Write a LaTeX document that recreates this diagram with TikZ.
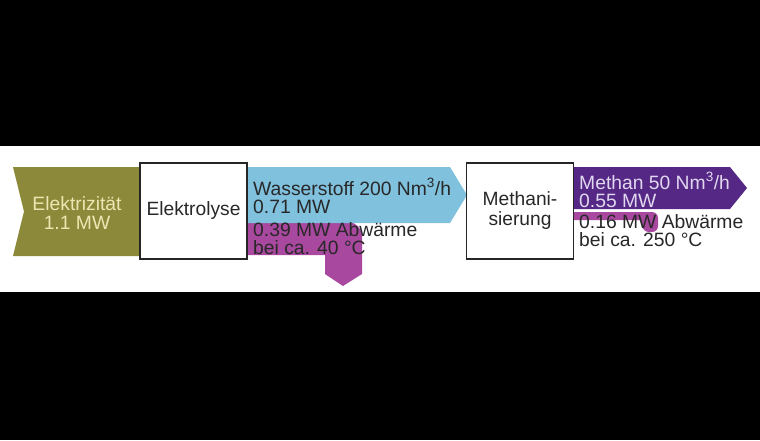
\documentclass[tikz,border=0pt]{standalone}
\usepackage{fontspec}
\setmainfont{Liberation Sans}
\usetikzlibrary{positioning}

\definecolor{strom}{RGB}{140,137,58}
\definecolor{wasserstoff}{RGB}{128,193,222}
\definecolor{methan}{RGB}{84,40,132}
\definecolor{abwaerme}{RGB}{168,72,158}
\definecolor{schrift}{RGB}{40,40,40}

\tikzset{
 prozess/.style={draw=black!85,line width=1.2pt,fill=white,minimum width=107pt,
   minimum height=96pt,inner sep=0pt,align=center,text=schrift,
   font=\fontsize{19.2}{20}\selectfont},
 fluss/.style={anchor=north west,inner sep=0pt,align=left,text=schrift,
   font=\fontsize{19.3}{18.5}\selectfont},
}

\begin{document}
\begin{tikzpicture}[x=1pt,y=-1pt]
 \fill[black] (0,0) rectangle (760,440);
 \useasboundingbox (0,0) rectangle (760,440);
 \fill[white] (0,146) rectangle (760,292);
 % Strom
 \fill[strom] (13,167)--(142,167)--(142,256)--(13,256)--(24,211.5)--cycle;
 % Wasserstoff und Abwaerme
 \fill[abwaerme] (247,222) [rounded corners=14pt]--(362,222) [sharp corners]--(362,274)
   --(343,286)--(325,274)--(325,255)--(247,255)--cycle;
 \fill[wasserstoff] (247,167)--(450,167)--(467,195)--(450,223)--(247,223)--cycle;
 % Methan und Abwaerme
 \fill[abwaerme] (573,212) [rounded corners=6pt]--(658,212)--(658,232)
   --(643,232) [sharp corners]--(641,220)--(573,220)--cycle;
 \fill[methan] (573,167)--(730,167)--(747,188)--(730,209)--(573,209)--cycle;
 % Prozesse
 \node[prozess] (elektrolyse) at (193.5,211) {Elektrolyse};
 \node[prozess] (methanisierung) at (520,211) {Methani-\\sierung};
 % Texte
 \node[fluss,text={rgb,255:red,238;green,230;blue,178},align=center,anchor=center]
   (strom) at (77,213) {Elektrizit\"at\\1.1 MW};
 \node[fluss] (h2) at (253,178) {Wasserstoff 200 Nm\textsuperscript{3}/h\\0.71 MW};
 \node[fluss] (w1) at (253,222) {0.39 MW Abw\"arme\\bei ca. 40 \textdegree C};
 \node[fluss,text={rgb,255:red,225;green,215;blue,240}] (ch4) at (579,172)
   {Methan 50 Nm\textsuperscript{3}/h\\0.55 MW};
 \node[fluss] (w2) at (579,214) {0.16 MW Abw\"arme\\bei ca. 250 \textdegree C};
\end{tikzpicture}
\end{document}
